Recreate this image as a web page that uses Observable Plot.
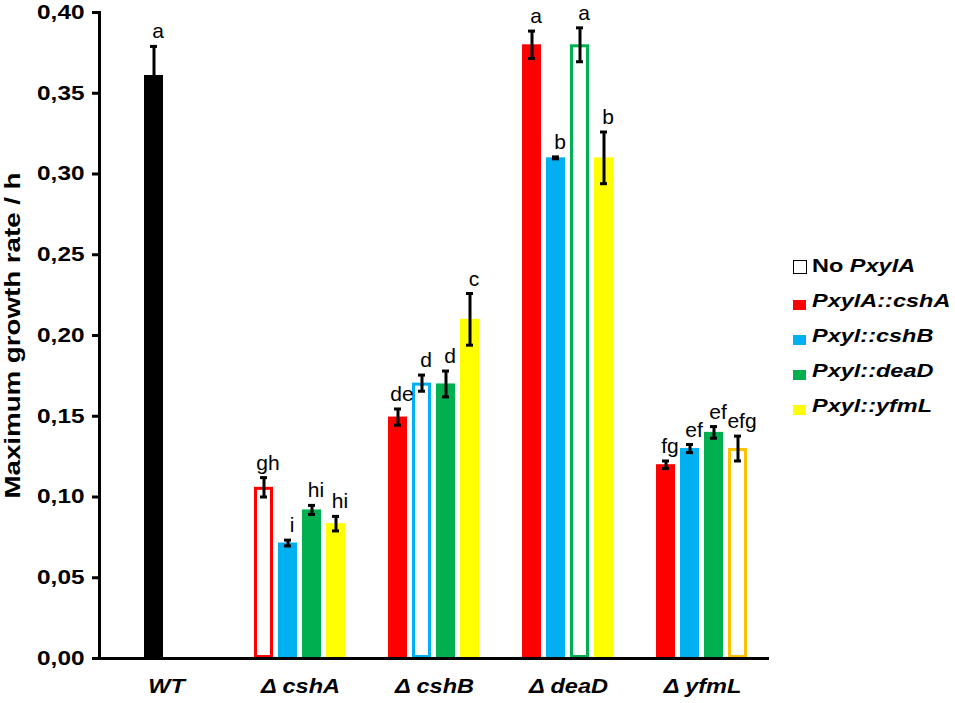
<!DOCTYPE html>
<html><head><meta charset="utf-8">
<script src="https://cdn.jsdelivr.net/npm/d3@7"></script>
<script src="https://cdn.jsdelivr.net/npm/@observablehq/plot@0.6"></script>
<style>
body{margin:0;background:#fff;}
#wrap{position:relative;width:955px;height:703px;}
#legend{position:absolute;left:793px;top:248px;font-family:"Liberation Sans",Arial,sans-serif;font-weight:bold;font-size:18.5px;color:#000;}
.row{display:flex;align-items:center;height:35px;}
.sw{width:13px;height:10px;margin-right:6px;position:relative;top:4px;box-sizing:border-box;}
.sw.outline{width:14px;height:14px;border:1.5px solid #000;background:#fff;top:1px;margin-right:5px;}
.lab{display:inline-block;transform:scaleX(1.27);transform-origin:left center;white-space:nowrap;}
.it{font-style:italic;}
</style></head><body><div id="wrap"><div id="legend"></div></div>
<script>
// categories (strains) and bar slots (gene expressed / deleted gene)
const categories = ["WT", "Δ cshA", "Δ cshB", "Δ deaD", "Δ yfmL"];
const slots = ["cshA", "cshB", "deaD", "yfmL"];
const legendLabels = ["No PxylA", "PxylA::cshA", "Pxyl::cshB", "Pxyl::deaD", "Pxyl::yfmL"];
const slotColors = ["#FF0000", "#00B0F0", "#00B050", "#FFFF00"];
const outlineColors = ["#FF0000", "#00B0F0", "#00B050", "#FFC000"];
const wtColor = "#000000";
// slot holding the "No PxylA" (uncomplemented) bar of each strain
const noPxylASlot = [null, 0, 1, 2, 3];
// maximum growth rate per strain and slot
const values = [
  [null, 0.361, null, null],
  [0.106, 0.0715, 0.092, 0.0835],
  [0.1495, 0.1705, 0.170, 0.210],
  [0.380, 0.310, 0.380, 0.310],
  [0.120, 0.130, 0.140, 0.130]
];
const errors = [
  [null, 0.018, null, null],
  [0.006, 0.0018, 0.0028, 0.0045],
  [0.005, 0.005, 0.008, 0.016],
  [0.0085, 0.0006, 0.0105, 0.016],
  [0.0023, 0.0025, 0.0036, 0.0077]
];
const letters = [
  [null, "a", null, null],
  ["gh", "i", "hi", "hi"],
  ["de", "d", "d", "c"],
  ["a", "b", "a", "b"],
  ["fg", "ef", "ef", "efg"]
];
const yTicks = [0, 0.05, 0.10, 0.15, 0.20, 0.25, 0.30, 0.35, 0.40];

const rows = [];
categories.forEach((cat, ci) => {
  slots.forEach((slot, si) => {
    const v = values[ci][si];
    if (v == null) return;
    const kind = ci === 0 ? "wt" : (si === noPxylASlot[ci] ? "outline" : "fill");
    rows.push({
      cat, slot, value: v, err: errors[ci][si], letter: letters[ci][si], kind,
      fill: kind === "wt" ? wtColor : kind === "outline" ? "#ffffff" : slotColors[si],
      stroke: outlineColors[si]
    });
  });
});
const filled = rows.filter(d => d.kind !== "outline");
const outlined = rows.filter(d => d.kind === "outline");
const font = "Liberation Sans, Arial, sans-serif";

const chart = Plot.plot({
  width: 955, height: 703,
  marginLeft: 97, marginRight: 185, marginTop: 12, marginBottom: 45,
  style: {fontFamily: font, background: "#fff", color: "#000"},
  fx: {domain: categories, padding: 0, label: null},
  x: {domain: slots, paddingInner: 0.2, paddingOuter: 0.87, axis: null},
  y: {domain: [0, 0.4]},
  marks: [
    Plot.barY(filled, {fx: "cat", x: "slot", y: "value", fill: "fill"}),
    Plot.barY(outlined, {fx: "cat", x: "slot", y: "value", fill: "#ffffff", stroke: "stroke", strokeWidth: 3, inset: 1.5}),
    Plot.ruleX(rows, {fx: "cat", x: "slot", y1: d => d.value - d.err, y2: d => d.value + d.err, stroke: "#000", strokeWidth: 3}),
    Plot.tickY(rows, {fx: "cat", x: "slot", y: d => d.value + d.err, stroke: "#000", strokeWidth: 3, insetLeft: 6, insetRight: 6}),
    Plot.tickY(rows, {fx: "cat", x: "slot", y: d => d.value - d.err, stroke: "#000", strokeWidth: 3, insetLeft: 6, insetRight: 6}),
    Plot.text(rows, {fx: "cat", x: "slot", y: d => d.value + d.err, text: "letter", dy: -8, dx: 4, lineAnchor: "bottom", fontSize: 21, fill: "#000"}),
    Plot.ruleY([0], {stroke: "#000", strokeWidth: 3}),
    Plot.frame({anchor: "left", facetAnchor: "left", stroke: "#000", strokeWidth: 3}),
    Plot.axisY({ticks: yTicks, tickFormat: d => d.toFixed(2).replace(".", ","), tickSize: 7, tickPadding: 8,
      stroke: "#000", strokeWidth: 3, fontSize: 19.5, fontWeight: "bold", fill: "#000",
      label: "Maximum growth rate / h", labelAnchor: "center", labelArrow: "none", labelOffset: 95}),
    Plot.axisFx({anchor: "bottom", tickSize: 0, tickPadding: 20, label: null, fontSize: 21, fontWeight: "bold", fontStyle: "italic", fill: "#000"})
  ]
});
const wrap = document.getElementById("wrap");
wrap.insertBefore(chart, wrap.firstChild);

chart.querySelectorAll('g[aria-label="y-axis label"] text').forEach(t => { t.setAttribute("font-size", 22.5); t.setAttribute("font-weight", "bold"); });
// widen glyphs like the reference's wide bold face
function stretch(sel, k) {
  chart.querySelectorAll(sel).forEach(t => {
    const L = t.getComputedTextLength();
    if (L > 0) { t.setAttribute("textLength", L * k); t.setAttribute("lengthAdjust", "spacingAndGlyphs"); }
  });
}
stretch('g[aria-label="y-axis tick label"] text', 1.25);
stretch('g[aria-label="y-axis label"] text', 1.23);
stretch('g[aria-label="fx-axis tick label"] text', 1.12);

// legend
const legend = document.getElementById("legend");
legendLabels.forEach((lab, i) => {
  const row = document.createElement("div"); row.className = "row";
  const sw = document.createElement("div");
  sw.className = i === 0 ? "sw outline" : "sw";
  if (i > 0) sw.style.background = slotColors[i - 1];
  const span = document.createElement("span"); span.className = "lab";
  if (lab.startsWith("No ")) {
    span.innerHTML = "No <span class='it'>" + lab.slice(3) + "</span>";
  } else {
    span.innerHTML = "<span class='it'>" + lab + "</span>";
  }
  row.appendChild(sw); row.appendChild(span); legend.appendChild(row);
});
</script></body></html>
